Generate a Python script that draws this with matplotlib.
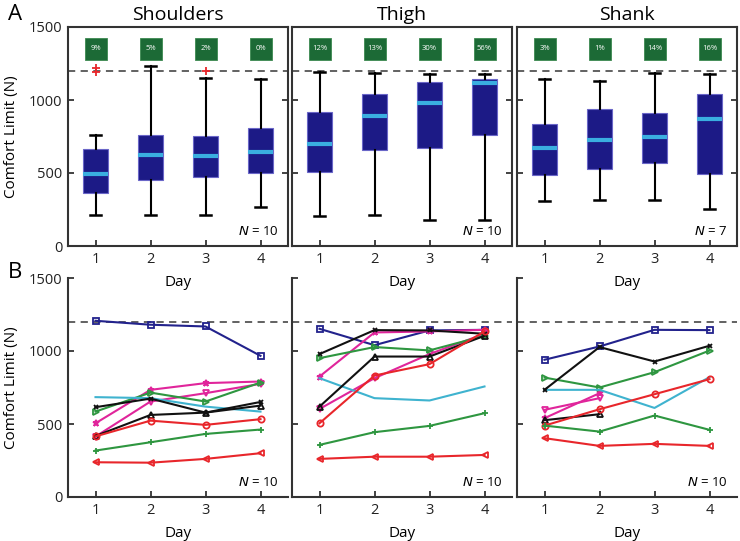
import numpy as np
import matplotlib
matplotlib.use("Agg")
import matplotlib.pyplot as plt
from matplotlib.patches import Rectangle

plt.rcParams['font.family'] = ['Open Sans', 'DejaVu Sans']
plt.rcParams['mathtext.fontset'] = 'dejavusans'

days = [1, 2, 3, 4]
regions = ['Shoulders', 'Thigh', 'Shank']
n_top = [10, 10, 7]
n_bottom = [10, 10, 10]
limit = 1200

# percentage labels (green boxes)
shoulders_pct = ['9%', '5%', '2%', '0%']
thigh_pct = ['12%', '13%', '30%', '56%']
shank_pct = ['3%', '1%', '14%', '16%']

# box plot summaries per day
shoulders_q1 = [365, 450, 475, 500]
shoulders_med = [495, 625, 619, 642]
shoulders_q3 = [664, 762, 751, 808]
shoulders_lo = [212, 212, 212, 269]
shoulders_hi = [760, 1235, 1148, 1144]
shoulders_fliers = [[1217, 1194], [], [1199], []]

thigh_q1 = [509, 655, 669, 758]
thigh_med = [697, 893, 979, 1116]
thigh_q3 = [916, 1039, 1125, 1146]
thigh_lo = [208, 212, 176, 180]
thigh_hi = [1194, 1185, 1180, 1180]
thigh_fliers = [[], [], [], []]

shank_q1 = [489, 525, 568, 495]
shank_med = [669, 728, 744, 870]
shank_q3 = [836, 936, 911, 1043]
shank_lo = [311, 315, 315, 255]
shank_hi = [1146, 1133, 1183, 1178]
shank_fliers = [[], [], [], []]

# individual subjects over days
nan = np.nan
shoulders_lines = [
    [1207, 1180, 1168, 967],
    [505, 734, 780, 791],
    [414, 654, 711, 775],
    [585, 715, 654, 784],
    [684, 677, 619, 585],
    [615, 674, 578, 651],
    [418, 562, 578, 626],
    [415, 523, 494, 533],
    [318, 375, 432, 462],
    [238, 235, 261, 300],
]
thigh_lines = [
    [1152, 1040, 1141, 1145],
    [825, 1127, 1134, 1145],
    [603, 814, 979, 1118],
    [951, 1027, 1004, 1104],
    [814, 677, 661, 757],
    [979, 1143, 1141, 1118],
    [619, 962, 962, 1104],
    [505, 832, 910, 1134],
    [357, 444, 487, 574],
    [261, 276, 276, 288],
]
shank_lines = [
    [940, 1031, 1145, 1143],
    [540, 711, nan, nan],
    [597, 677, nan, nan],
    [818, 750, 855, 1003],
    [734, 734, 610, 821],
    [734, 1027, 928, 1036],
    [526, 567, nan, nan],
    [489, 601, 704, 807],
    [489, 448, 558, 460],
    [403, 350, 364, 350],
]

subj_colors = ['#22228c', '#e0259b', '#e0259b', '#2e9640', '#3fb3cf',
               '#111111', '#111111', '#e8262b', '#2e9640', '#e8262b']
subj_markers = ['s', '*', 'v', '>', '', 'x', '^', 'o', '+', '<']

navy = '#1c1a86'
median_blue = '#3aaee0'
green_box = '#1c6a36'
spine_c = '#333333'

box_data = [
    (shoulders_q1, shoulders_med, shoulders_q3, shoulders_lo, shoulders_hi, shoulders_fliers),
    (thigh_q1, thigh_med, thigh_q3, thigh_lo, thigh_hi, thigh_fliers),
    (shank_q1, shank_med, shank_q3, shank_lo, shank_hi, shank_fliers),
]
pcts = [shoulders_pct, thigh_pct, shank_pct]
lines = [shoulders_lines, thigh_lines, shank_lines]

W, H = 740, 541
fig = plt.figure(figsize=(W / 100, H / 100), dpi=100)

lefts = [68, 292, 517]
aw = 220
top_y0, bot_y0 = 27, 278
ah = 219


def style_axes(ax, box=True, ylabels=False):
    ax.set_xlim(0.5, 4.5)
    ax.set_ylim(0, 1500)
    ax.set_xticks(days)
    ax.set_yticks([0, 500, 1000, 1500])
    ax.tick_params(direction='in', length=4, width=1.2, labelsize=10.5,
                   right=box, top=False, colors='#222222', pad=4)
    if not ylabels:
        ax.set_yticklabels([])
    for s in ax.spines.values():
        s.set_linewidth(1.5)
        s.set_color(spine_c)
    if not box:
        ax.spines['top'].set_visible(False)
        ax.spines['right'].set_visible(False)
    ax.set_xlabel('Day', fontsize=11, labelpad=6)
    if ylabels:
        ax.set_ylabel('Comfort Limit (N)', fontsize=11, labelpad=7)
    ax.axhline(limit, color='#555555', lw=1.3, ls=(0, (4, 3)), zorder=1)


for i, reg in enumerate(regions):
    # top: box plots
    ax = fig.add_axes([lefts[i] / W, 1 - (top_y0 + ah) / H, aw / W, ah / H])
    style_axes(ax, box=True, ylabels=(i == 0))
    q1, med, q3, lo, hi, fl = box_data[i]
    stats = [dict(q1=q1[k], med=med[k], q3=q3[k], whislo=lo[k], whishi=hi[k],
                  fliers=fl[k]) for k in range(4)]
    ax.bxp(stats, positions=days, widths=0.45, capwidths=0.2, patch_artist=True,
           boxprops=dict(facecolor=navy, edgecolor='#6a66c8', lw=0.8),
           medianprops=dict(color=median_blue, lw=3),
           whiskerprops=dict(color='black', lw=1.5),
           capprops=dict(color='black', lw=1.8),
           flierprops=dict(marker='+', markeredgecolor='#e8262b', markersize=6,
                           markeredgewidth=1.3),
           manage_ticks=False, zorder=3)
    for d, p in zip(days, pcts[i]):
        ax.add_patch(Rectangle((d - 0.2, 1275), 0.4, 150, facecolor=green_box,
                               edgecolor='#3c8a50', lw=0.6, zorder=4))
        ax.text(d, 1350, p, color='white', fontsize=5.5, ha='center',
                va='center', zorder=5)
    ax.set_title(reg, fontsize=14, pad=5)
    ax.text(4.33, 96, '$N$ = %d' % n_top[i], ha='right', va='center', fontsize=9.5)

    # bottom: individual subjects
    ax2 = fig.add_axes([lefts[i] / W, 1 - (bot_y0 + ah) / H, aw / W, ah / H])
    ax2.set_facecolor('none')
    style_axes(ax2, box=False, ylabels=(i == 0))
    for vals, c, m in zip(lines[i], subj_colors, subj_markers):
        mfc = c if m in ('*', 'x', '+') else 'none'
        ms = 3.5 if m == 'x' else 4.5
        ax2.plot(days, vals, color=c, lw=1.5, marker=m if m else None,
                 markersize=ms, markerfacecolor=mfc, markeredgecolor=c,
                 markeredgewidth=1.3, zorder=3)
    ax2.text(4.33, 96, '$N$ = %d' % n_bottom[i], ha='right', va='center', fontsize=9.5)

fig.text(8 / W, 1 - 14 / H, 'A', fontsize=16, va='center', ha='left')
fig.text(8 / W, 1 - 272 / H, 'B', fontsize=16, va='center', ha='left')

fig.savefig('out.png', dpi=100)
